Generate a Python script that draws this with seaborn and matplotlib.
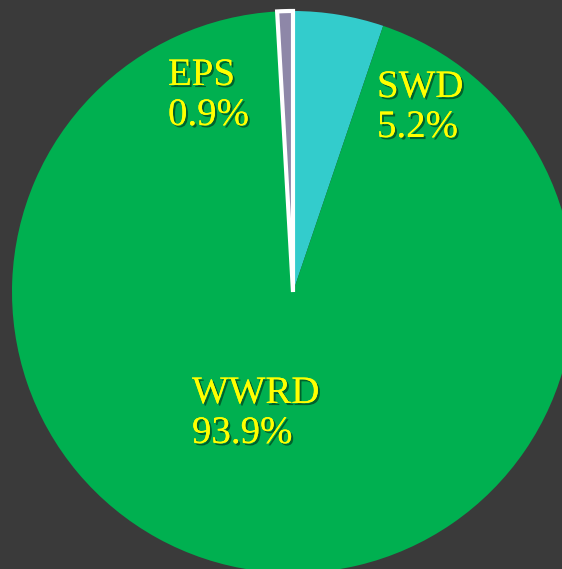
import matplotlib
matplotlib.use("Agg")
import matplotlib.pyplot as plt
import matplotlib.patheffects as pe
import seaborn as sns

# data
labels = ["SWD", "WWRD", "EPS"]
shares = [5.2, 93.9, 0.9]
colors = ["#33cccc", "#00b050", "#8e87a8"]

# label placement (left x, baseline of first line) in pixel coords from top-left
label_pos = {"EPS": (168, 85), "SWD": (377, 97), "WWRD": (192, 403)}

sns.set_theme(style="white")
plt.rcParams['font.family'] = ['Liberation Serif', 'DejaVu Serif']

W, H = 562, 569
bg = "#3a3a3a"
fig = plt.figure(figsize=(W / 100, H / 100), dpi=100, facecolor=bg)
ax = fig.add_axes([0, 0, 1, 1])
ax.set_facecolor(bg)

cx, cy, r = 293, H - 292, 281
wedges, _ = ax.pie(shares, colors=colors, startangle=90, counterclock=False,
                   center=(cx, cy), radius=r, frame=True,
                   wedgeprops=dict(linewidth=0))
# EPS wedge gets a white outline
wedges[2].set_edgecolor("white")
wedges[2].set_linewidth(3)
wedges[2].set_zorder(3)

ax.set_xlim(0, W)
ax.set_ylim(0, H)
ax.set_aspect("equal")
ax.axis("off")

shadow = [pe.withSimplePatchShadow(offset=(1.5, -1.5), shadow_rgbFace="black", alpha=0.45),
          pe.Normal()]
line_gap = 40
for lab, val in zip(labels, shares):
    x, y = label_pos[lab]
    for i, s in enumerate([lab, f"{val:.1f}%"]):
        ax.text(x, H - (y + i * line_gap), s, color="#ffff00", fontsize=28,
                ha="left", va="baseline", path_effects=shadow, zorder=5)

fig.savefig("out.png", dpi=100, facecolor=bg)
